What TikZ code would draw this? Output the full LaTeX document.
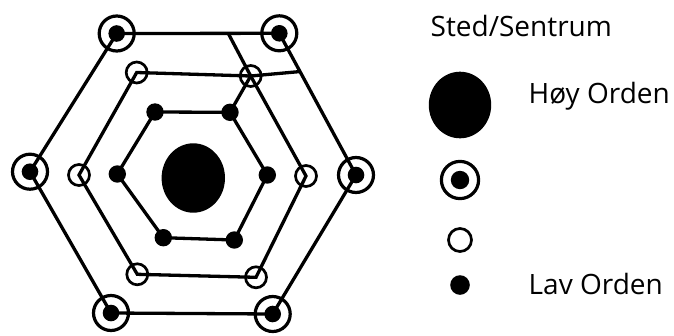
\documentclass[tikz,border=0pt]{standalone}
\usepackage{fontspec}
\setmainfont{Open Sans}
\usetikzlibrary{shapes.geometric,calc}
\tikzset{
  ln/.style={line width=3.3pt},
  dblring/.style={circle, draw, line width=3.2pt, minimum size=35pt, inner sep=0pt,
    path picture={\fill (path picture bounding box.center) circle (8.3pt);}},
  ring/.style={circle, draw, line width=2.7pt, minimum size=21pt, inner sep=0pt},
  dot/.style={circle, fill, minimum size=17.4pt, inner sep=0pt},
  bigdot/.style={ellipse, fill, inner sep=0pt},
  lbl/.style={anchor=base west, inner sep=0pt, font=\fontsize{28}{34}\selectfont}
}
\begin{document}
\begin{tikzpicture}[x=1pt,y=-1pt]
\useasboundingbox (0,0) rectangle (674,335);
% outer ring
\node[dblring] (o1) at (116.7,33.5) {};
\node[dblring] (o2) at (279.3,33.3) {};
\node[dblring] (o3) at (356,175) {};
\node[dblring] (o4) at (272.7,314) {};
\node[dblring] (o5) at (111,313) {};
\node[dblring] (o6) at (30,171.7) {};
% middle ring
\node[ring] (m1) at (136.7,72.5) {};
\node[ring] (m2) at (250.7,76) {};
\node[ring] (m3) at (306,176) {};
\node[ring] (m4) at (256,277.3) {};
\node[ring] (m5) at (137.3,274.3) {};
\node[ring] (m6) at (79,175) {};
% inner ring
\node[dot] (i1) at (155,112) {};
\node[dot] (i2) at (230,112.3) {};
\node[dot] (i3) at (267.3,175) {};
\node[dot] (i4) at (234.3,240) {};
\node[dot] (i5) at (163.3,237.7) {};
\node[dot] (i6) at (117.3,174) {};
% centre
\node[bigdot, minimum width=63.4pt, minimum height=69.4pt] (c) at (193.3,178) {};
% hexagon edges
\draw[ln] (o1.center) -- (o2.center) -- (o3.center) -- (o4.center) -- (o5.center) -- (o6.center) -- cycle;
\draw[ln] (m1.center) -- (m2.center) -- (m3.center) -- (m4.center) -- (m5.center) -- (m6.center) -- cycle;
\draw[ln] (i1.center) -- (i2.center) -- (i3.center) -- (i4.center) -- (i5.center) -- (i6.center) -- cycle;
% extra links
\coordinate (e1) at ($(o1.center)!0.686!(o2.center)$);
\coordinate (e2) at ($(o2.center)!0.27!(o3.center)$);
\draw[ln] (e1) -- (m2.center);
\draw[ln] (m2.center) -- (e2);
\draw[ln] (i2.center) -- (m2.center);
% legend
\node[lbl] (t0) at (430.5,36.5) {Sted/Sentrum};
\node[bigdot, minimum width=62.4pt, minimum height=66.6pt] (l1) at (460,105) {};
\node[lbl] (t1) at (528.5,103) {Høy Orden};
\node[dblring, minimum size=37.2pt, path picture={\fill (path picture bounding box.center) circle (9.2pt);}] (l2) at (460,180) {};
\node[ring, minimum size=23pt] (l3) at (460,240) {};
\node[dot, minimum size=19.6pt] (l4) at (460,285) {};
\node[lbl] (t4) at (528.5,294.5) {Lav Orden};
\end{tikzpicture}
\end{document}
